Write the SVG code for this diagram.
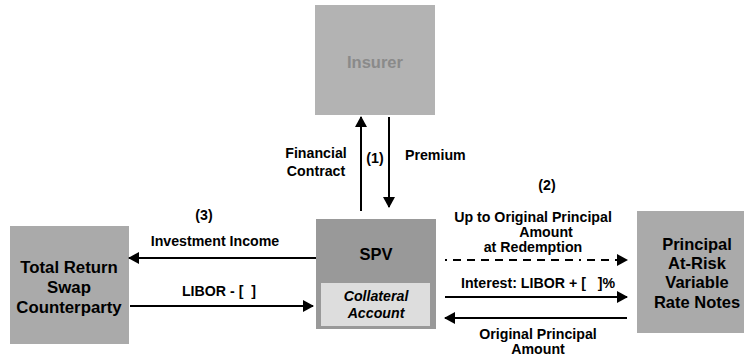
<svg xmlns="http://www.w3.org/2000/svg" width="745" height="358" viewBox="0 0 745 358">
<defs>
<style>
.t{font-family:"Liberation Sans",Arial,sans-serif;font-weight:bold;fill:#000;text-anchor:middle}
.e{font-size:14.2px}
.n{font-size:16.5px}
.ln{stroke:#000;stroke-width:2;fill:none}
</style>
<marker id="ah" markerWidth="12" markerHeight="12" refX="10" refY="6" orient="auto" markerUnits="userSpaceOnUse">
<path d="M0,0 L11,6 L0,12 Z" fill="#000"/>
</marker>
</defs>
<rect width="745" height="358" fill="#fff"/>
<g id="insurer">
<rect x="315" y="5" width="120" height="110" fill="#b3b3b3"/>
<text class="t n" x="375" y="68" style="fill:#8a8a8a">Insurer</text>
</g>
<g id="spv">
<rect x="316" y="219" width="120" height="110" fill="#999999"/>
<text class="t n" x="376" y="260">SPV</text>
<rect x="321" y="283" width="109" height="43" fill="#dddddd"/>
<text class="t e" x="376" y="301" font-style="italic">Collateral</text>
<text class="t e" x="376" y="318" font-style="italic">Account</text>
</g>
<g id="trs">
<rect x="10" y="226" width="119" height="118" fill="#aaaaaa"/>
<text class="t n" x="69" y="273" style="font-size:16.8px">Total Return</text>
<text class="t n" x="69" y="293" style="font-size:16.8px">Swap</text>
<text class="t n" x="69" y="313" style="font-size:16.8px">Counterparty</text>
</g>
<g id="notes">
<rect x="637" y="211" width="107" height="122" fill="#aaaaaa"/>
<text class="t n" x="697" y="250">Principal</text>
<text class="t n" x="697" y="269">At-Risk</text>
<text class="t n" x="697" y="288">Variable</text>
<text class="t n" x="697" y="308">Rate Notes</text>
</g>
<g id="connectors">
<line class="ln" x1="361" y1="211" x2="361" y2="117" marker-end="url(#ah)"/>
<line class="ln" x1="389" y1="117" x2="389" y2="207" marker-end="url(#ah)"/>
<line class="ln" x1="316" y1="258" x2="129" y2="258" marker-end="url(#ah)"/>
<line class="ln" x1="130" y1="306" x2="313" y2="306" marker-end="url(#ah)"/>
<line class="ln" x1="445" y1="260" x2="627" y2="260" stroke-dasharray="2,6,8,6,8,6,8,6,8,6,8,6,8,6,8,6,8,6,8,6" marker-end="url(#ah)"/>
<line class="ln" x1="445" y1="297" x2="627" y2="297" marker-end="url(#ah)"/>
<line class="ln" x1="627" y1="318" x2="445" y2="318" marker-end="url(#ah)"/>
</g>
<g id="labels">
<text class="t e" x="316" y="158">Financial</text>
<text class="t e" x="316" y="176">Contract</text>
<text class="t e" x="375" y="163">(1)</text>
<text class="t e" x="405" y="160" style="text-anchor:start">Premium</text>
<text class="t e" x="547" y="190">(2)</text>
<text class="t e" x="533" y="222">Up to Original Principal</text>
<text class="t e" x="546" y="237">Amount</text>
<text class="t e" x="533" y="252">at Redemption</text>
<text class="t e" x="538" y="288" xml:space="preserve">Interest: LIBOR + [   ]%</text>
<text class="t e" x="538" y="339">Original Principal</text>
<text class="t e" x="538" y="354">Amount</text>
<text class="t e" x="204" y="220">(3)</text>
<text class="t e" x="215" y="246">Investment Income</text>
<text class="t e" x="219" y="296" xml:space="preserve">LIBOR - [  ]</text>
</g>
</svg>
